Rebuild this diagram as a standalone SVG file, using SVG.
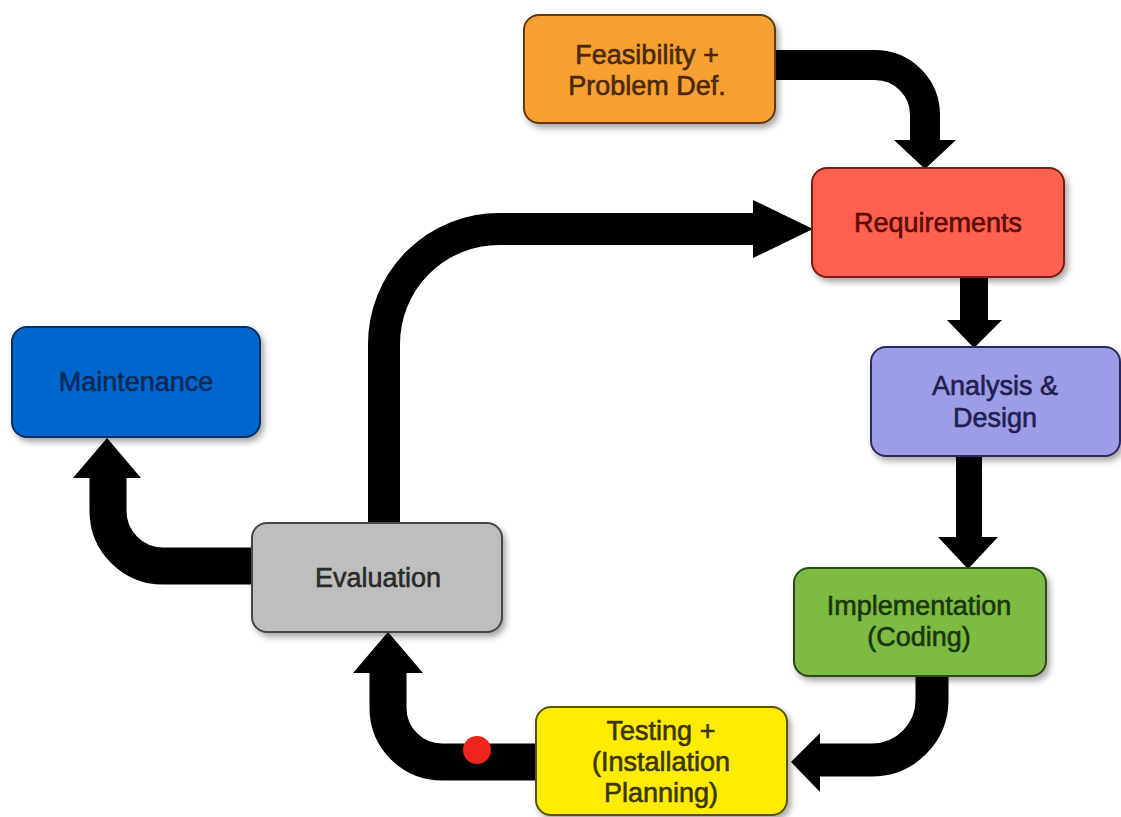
<svg xmlns="http://www.w3.org/2000/svg" width="1121" height="817" viewBox="0 0 1121 817">
<defs>
<filter id="sh" x="-10%" y="-10%" width="130%" height="140%">
<feDropShadow dx="3" dy="4" stdDeviation="3" flood-color="#000" flood-opacity="0.35"/>
</filter>
<style>
.box{stroke-width:2;filter:url(#sh)}
.lbl{font-family:"Liberation Sans",Arial,sans-serif;font-size:27px;text-anchor:middle;stroke-width:0.6}
.shaft{fill:none;stroke:#000;stroke-linecap:butt}
.head{fill:#000}
</style>
</defs>
<rect width="1121" height="817" fill="#fff"/>
<g id="connectors">
<path class="shaft" stroke-width="30" d="M 770 65 H 875 A 50 50 0 0 1 925 115 V 142"/>
<polygon class="head" points="894,140 956,140 925,169"/>
<path class="shaft" stroke-width="32" d="M 384 528 V 344 A 115 115 0 0 1 499 229 H 755"/>
<polygon class="head" points="753,200 813,229 753,258"/>
<path class="shaft" stroke-width="28" d="M 974 272 V 322"/>
<polygon class="head" points="947,320 1002,320 974,348"/>
<path class="shaft" stroke-width="26" d="M 969 452 V 539"/>
<polygon class="head" points="938,537 998,537 968,569"/>
<path class="shaft" stroke-width="33" d="M 932 672 V 700 A 60 60 0 0 1 872 760 H 818"/>
<polygon class="head" points="820,733 791,762 820,792"/>
<path class="shaft" stroke-width="37" d="M 540 762 H 442 A 54 54 0 0 1 388 708 V 671"/>
<polygon class="head" points="353,673 423,673 388,632"/>
<path class="shaft" stroke-width="37" d="M 256 566 H 163 A 55 55 0 0 1 108 511 V 476"/>
<polygon class="head" points="73,478 141,478 107,438"/>
<circle cx="477" cy="750" r="14" fill="#f0241c"/>
</g>
<g id="feasibility">
<rect class="box" x="524" y="15" width="251" height="108" rx="15" fill="#f9a032" stroke="#5e3a0e"/>
<text class="lbl" x="647" y="64" fill="#4a2a06" stroke="#4a2a06">Feasibility +</text>
<text class="lbl" x="647" y="95" fill="#4a2a06" stroke="#4a2a06">Problem Def.</text>
</g>
<g id="requirements">
<rect class="box" x="812" y="168" width="252" height="109" rx="15" fill="#ff6150" stroke="#7a1c12"/>
<text class="lbl" x="938" y="232" fill="#5a0c06" stroke="#5a0c06">Requirements</text>
</g>
<g id="analysis">
<rect class="box" x="871" y="347" width="249" height="109" rx="15" fill="#9c9de6" stroke="#2a2b5e"/>
<text class="lbl" x="995" y="395" fill="#1f2150" stroke="#1f2150">Analysis &amp;</text>
<text class="lbl" x="995" y="427" fill="#1f2150" stroke="#1f2150">Design</text>
</g>
<g id="implementation">
<rect class="box" x="794" y="568" width="252" height="108" rx="15" fill="#7dbb43" stroke="#2b4a12"/>
<text class="lbl" x="919" y="615" fill="#1a360a" stroke="#1a360a">Implementation</text>
<text class="lbl" x="919" y="646" fill="#1a360a" stroke="#1a360a">(Coding)</text>
</g>
<g id="testing">
<rect class="box" x="536" y="707" width="251" height="108" rx="15" fill="#ffec00" stroke="#5a5204"/>
<text class="lbl" x="661" y="740" fill="#3a3604" stroke="#3a3604">Testing +</text>
<text class="lbl" x="661" y="771" fill="#3a3604" stroke="#3a3604">(Installation</text>
<text class="lbl" x="661" y="802" fill="#3a3604" stroke="#3a3604">Planning)</text>
</g>
<g id="evaluation">
<rect class="box" x="252" y="523" width="250" height="109" rx="15" fill="#bebebe" stroke="#454545"/>
<text class="lbl" x="378" y="587" fill="#2a2a2a" stroke="#2a2a2a">Evaluation</text>
</g>
<g id="maintenance">
<rect class="box" x="12" y="327" width="248" height="110" rx="15" fill="#0366cc" stroke="#06305e"/>
<text class="lbl" x="136" y="391" fill="#0b2a58" stroke="#0b2a58">Maintenance</text>
</g>
</svg>
